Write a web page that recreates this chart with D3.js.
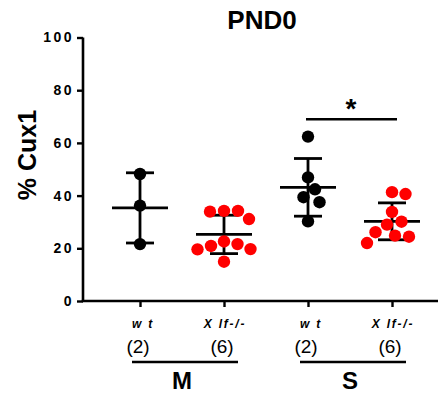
<!DOCTYPE html>
<html>
<head>
<meta charset="utf-8">
<script src="https://cdn.jsdelivr.net/npm/d3@7"></script>
<style>
  body { margin: 0; background: #fff; }
  svg { display: block; font-family: 'Liberation Sans', Arial, sans-serif; }
</style>
</head>
<body>
<div id="chart"></div>
<script>
// data --------------------------------------------------
var groupKeys = ['wtM', 'xlfM', 'wtS', 'xlfS']
var genotypeLabels = ['w t', 'X lf-/-', 'w t', 'X lf-/-']
var nLabels = ['(2)', '(6)', '(2)', '(6)']
var regionLabels = ['M', 'S']
var yTicks = [0, 20, 40, 60, 80, 100]
var wtM = [48.2, 36.2, 21.6]
var xlfM = [34.2, 31.1, 33.9, 34.2, 22.6, 21.6, 19.7, 19.6, 20.9, 14.9]
var wtS = [62.4, 46.9, 42.4, 39.4, 37.5, 30.2]
var xlfS = [40.6, 41.3, 33.8, 30.1, 29.0, 24.8, 26.1, 24.4, 22.0]
var sigValue = 69
var sigLabel = '*'
var title = 'PND0'
var yLabel = '% Cux1'

var series = [wtM, xlfM, wtS, xlfS]
var colors = ['#000', '#ff0000', '#000', '#ff0000']

var width = 438
var height = 395
var paper = d3.select('#chart').append('svg')
  .attr('width', width)
  .attr('height', height)

var x = d3.scalePoint().domain(groupKeys).range([140, 392])
var y = d3.scaleLinear().domain([0, 100]).range([301, 37.5])
var axisLeft = 83
var r = 6.2

// axes
var yAxis = d3.axisLeft(y).tickValues(yTicks).tickSize(6).tickFormat(d3.format('d'))
var gy = paper.append('g')
  .attr('transform', 'translate(' + axisLeft + ',0)')
  .call(yAxis)
gy.select('.domain').attr('d', 'M0,' + y(100) + 'V' + y(0)).attr('stroke-width', 2.6)
gy.selectAll('.tick line').attr('stroke-width', 2.4)
gy.selectAll('.tick text')
  .attr('x', -9)
  .attr('font-size', 14)
  .attr('font-weight', 'bold')
  .attr('letter-spacing', '2.5px')
  .attr('font-family', 'Liberation Sans, Arial, sans-serif')

var xAxis = d3.axisBottom(x).tickSize(6).tickFormat('')
var gx = paper.append('g')
  .attr('transform', 'translate(0,' + y(0) + ')')
  .call(xAxis)
gx.select('.domain').attr('d', 'M' + (axisLeft - 1.3) + ',0H' + width).attr('stroke-width', 2.6)
gx.selectAll('.tick line').attr('stroke-width', 2.4)

// beeswarm offsets
function swarm (values, cx) {
  var placed = []
  var order = d3.range(values.length).sort(function (a, b) { return values[b] - values[a] })
  var out = new Array(values.length)
  order.forEach(function (i) {
    var py = y(values[i])
    var dx = 0
    for (var k = 0; k < 200; k++) {
      var cand = k === 0 ? 0 : (k % 2 ? 1 : -1) * Math.ceil(k / 2) * 0.5
      var ok = placed.every(function (p) {
        return Math.hypot(p.x - (cx + cand), p.y - py) >= 2 * r + 1.2
      })
      if (ok) { dx = cand; break }
    }
    var pt = { x: cx + dx, y: py }
    placed.push(pt)
    out[i] = pt
  })
  return out
}

// error bars (mean +/- SD) and points
series.forEach(function (vals, gi) {
  var cx = x(groupKeys[gi])
  var m = d3.mean(vals)
  var sd = d3.deviation(vals)
  var g = paper.append('g').attr('stroke', '#000').attr('stroke-width', 2.8)
  g.append('line').attr('x1', cx).attr('x2', cx).attr('y1', y(m + sd)).attr('y2', y(m - sd))
  g.append('line').attr('x1', cx - 14).attr('x2', cx + 14).attr('y1', y(m + sd)).attr('y2', y(m + sd))
  g.append('line').attr('x1', cx - 14).attr('x2', cx + 14).attr('y1', y(m - sd)).attr('y2', y(m - sd))
  g.append('line').attr('x1', cx - 28).attr('x2', cx + 28).attr('y1', y(m)).attr('y2', y(m))

  paper.append('g').selectAll('circle')
    .data(swarm(vals, cx))
    .enter()
    .append('circle')
    .attr('cx', function (d) { return d.x })
    .attr('cy', function (d) { return d.y })
    .attr('r', r)
    .attr('fill', colors[gi])
})

// significance bar
paper.append('line')
  .attr('x1', x('wtS') - 2).attr('x2', x('xlfS') + 5)
  .attr('y1', y(sigValue)).attr('y2', y(sigValue))
  .attr('stroke', '#000').attr('stroke-width', 2.6)
paper.append('text')
  .attr('x', (x('wtS') + x('xlfS')) / 2 + 1)
  .attr('y', y(sigValue) - 1)
  .attr('text-anchor', 'middle')
  .attr('font-size', 28)
  .attr('font-weight', 'bold')
  .text(sigLabel)

// title and y label
paper.append('text')
  .attr('x', 262).attr('y', 29)
  .attr('text-anchor', 'middle')
  .attr('font-size', 26)
  .attr('font-weight', 'bold')
  .text(title)
paper.append('text')
  .attr('transform', 'translate(36,155) rotate(-90)')
  .attr('text-anchor', 'middle')
  .attr('font-size', 25)
  .attr('font-weight', 'bold')
  .text(yLabel)

// category labels
groupKeys.forEach(function (k, i) {
  paper.append('text')
    .attr('x', x(k) + (i % 2 ? 1 : 3)).attr('y', 328)
    .attr('text-anchor', 'middle')
    .attr('font-size', 12)
    .attr('font-weight', 'bold')
    .attr('font-style', 'italic')
    .attr('letter-spacing', '1.8px')
    .text(genotypeLabels[i])
  paper.append('text')
    .attr('x', x(k) - 2).attr('y', 353)
    .attr('text-anchor', 'middle')
    .attr('font-size', 19)
    .text(nLabels[i])
})

// region brackets
regionLabels.forEach(function (lab, i) {
  var a = x(groupKeys[i * 2])
  var b = x(groupKeys[i * 2 + 1])
  paper.append('line')
    .attr('x1', a - 8).attr('x2', b + 14)
    .attr('y1', 362).attr('y2', 362)
    .attr('stroke', '#000').attr('stroke-width', 2.6)
  paper.append('text')
    .attr('x', (a + b) / 2).attr('y', 389)
    .attr('text-anchor', 'middle')
    .attr('font-size', 24)
    .attr('font-weight', 'bold')
    .text(lab)
})
</script>
</body>
</html>
